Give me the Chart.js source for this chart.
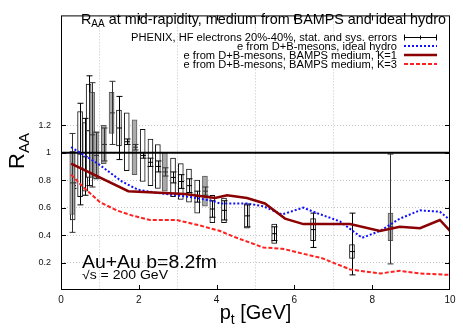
<!DOCTYPE html>
<html>
<head>
<meta charset="utf-8">
<script src="https://cdn.jsdelivr.net/npm/chart.js@4.4.0/dist/chart.umd.min.js"></script>
<style>
  html, body { margin: 0; padding: 0; background: #fff; }
</style>
</head>
<body>
<canvas id="c" width="463" height="333"></canvas>
<script>
/**************************************************
 DATA
**************************************************/
// PHENIX points drawn with open boxes
const whiteX     = [0.30, 0.49, 0.62, 0.71, 1.49, 1.69, 2.10, 2.30, 2.49, 2.88, 3.08, 3.29, 3.50, 3.89, 4.19, 4.78, 5.48, 6.48, 7.48];
const whiteY     = [0.76, 0.99, 0.97, 1.16, 1.18, 1.08, 0.98, 0.93, 0.90, 0.82, 0.79, 0.76, 0.68, 0.59, 0.58, 0.54, 0.41, 0.44, 0.28];
const whiteStatU = [0.02, 0.37, 0.28, 0.40, 0.23, 0.02, 0.02, 0.03, 0.04, 0.04, 0.05, 0.05, 0.04, 0.06, 0.07, 0.08, 0.05, 0.12, 0.28];
const whiteStatD = [0.02, 0.37, 0.28, 0.40, 0.23, 0.02, 0.02, 0.03, 0.04, 0.04, 0.05, 0.05, 0.04, 0.06, 0.07, 0.08, 0.05, 0.13, 0.17];
const whiteSys   = [0.25, 0.31, 0.25, 0.34, 0.13, 0.21, 0.19, 0.17, 0.16, 0.14, 0.13, 0.12, 0.12, 0.10, 0.09, 0.09, 0.07, 0.08, 0.05];

// PHENIX points drawn with grey boxes
const grayX     = [0.29, 0.80, 0.90, 1.10, 1.30, 1.89, 2.67, 3.70, 8.47];
const grayY     = [0.78, 1.13, 0.98, 1.06, 1.29, 1.04, 0.86, 0.72, 0.46];
const grayStatU = [0.36, 0.38, 0.17, 0.12, 0.23, 0.02, 0.03, 0.03, 0.53];
const grayStatD = [0.36, 0.38, 0.17, 0.12, 0.23, 0.02, 0.03, 0.03, 0.27];
const graySys   = [0.23, 0.31, 0.17, 0.14, 0.15, 0.20, 0.14, 0.11, 0.10];

// e from D+B-mesons, ideal hydro
const hydroX = [0.26, 0.95, 1.57, 1.98, 2.42, 3.26, 3.88, 4.09, 4.78, 5.20, 5.68, 6.23, 6.58, 7.17, 7.74, 8.20, 8.71, 9.23, 9.74, 10.0];
const hydroY = [1.04, 0.92, 0.79, 0.73, 0.71, 0.68, 0.65, 0.63, 0.63, 0.61, 0.55, 0.60, 0.56, 0.50, 0.38, 0.43, 0.52, 0.58, 0.57, 0.51];

// e from D+B-mesons, BAMPS medium, K=1
const k1X = [0.26, 1.73, 3.19, 3.96, 4.27, 4.78, 5.24, 5.76, 6.23, 7.43, 8.20, 8.71, 9.23, 9.74, 10.0];
const k1Y = [0.92, 0.72, 0.70, 0.67, 0.69, 0.67, 0.63, 0.52, 0.48, 0.48, 0.43, 0.46, 0.45, 0.51, 0.43];

// e from D+B-mesons, BAMPS medium, K=3
const k3X = [0.26, 0.57, 1.00, 1.43, 1.86, 2.29, 2.97, 3.57, 4.09, 4.42, 5.20, 5.70, 6.73, 7.43, 8.20, 8.71, 9.23, 10.0];
const k3Y = [0.84, 0.75, 0.64, 0.58, 0.54, 0.51, 0.51, 0.47, 0.43, 0.39, 0.31, 0.30, 0.23, 0.15, 0.12, 0.14, 0.12, 0.11];

const unityX = [0, 10];
const unityY = [1, 1];

const xTicks = [2, 4, 6, 8];
const yTicks = [0.2, 0.4, 0.6, 0.8, 1.0, 1.2];

const legendLabels = [
  "PHENIX, HF electrons 20%-40%, stat. and sys. errors",
  "e from D+B-mesons, ideal hydro",
  "e from D+B-mesons, BAMPS medium, K=1",
  "e from D+B-mesons, BAMPS medium, K=3"
];

/**************************************************
 HELPERS
**************************************************/
const FONT = '"Liberation Sans", Arial, sans-serif';

const pts = (xs, ys) => xs.map((x, i) => ({ x, y: ys[i] }));
const boxes = (xs, ys, sys) => xs.map((x, i) => ({ x, y: [ys[i] - sys[i], ys[i] + sys[i]] }));
const isTick = (list, v) => list.some(t => Math.abs(t - v) < 1e-6);
const gridColor = list => c => (c.tick && isTick(list, c.tick.value)) ? "#c4c4c4" : "rgba(0,0,0,0)";

function textWidth(ctx, parts) {
  let w = 0;
  parts.forEach(p => { ctx.font = p[1] + "px " + FONT; w += ctx.measureText(p[0]).width; });
  return w;
}

// draw text made of parts [text, size, dy], optionally stretched by sx
function richText(ctx, parts, x, y, align, sx) {
  sx = sx || 1;
  const w = textWidth(ctx, parts);
  const x0 = align === "right" ? x - w * sx : align === "center" ? x - w * sx / 2 : x;
  ctx.save();
  ctx.translate(x0, y);
  ctx.scale(sx, 1);
  ctx.textAlign = "left";
  ctx.textBaseline = "alphabetic";
  let cx = 0;
  parts.forEach(p => {
    ctx.font = p[1] + "px " + FONT;
    ctx.fillText(p[0], cx, p[2] || 0);
    cx += ctx.measureText(p[0]).width;
  });
  ctx.restore();
}

/**************************************************
 PLUGINS
**************************************************/
// stat. error bars + centre markers on the PHENIX boxes
const errBars = {
  id: "errBars",
  afterDatasetDraw(chart, args) {
    const ds = chart.data.datasets[args.index];
    if (!ds.statU) return;
    const ctx = chart.ctx, xs = chart.scales.x, ys = chart.scales.y;
    ctx.save();
    ctx.strokeStyle = ds.errColor;
    ctx.lineWidth = 1;
    ds.data.forEach((p, i) => {
      const mid = ds.mid[i];
      const px = Math.round(xs.getPixelForValue(p.x)) + 0.5;
      const yc = ys.getPixelForValue(mid);
      const y1 = ys.getPixelForValue(mid + ds.statU[i]);
      const y2 = ys.getPixelForValue(mid - ds.statD[i]);
      ctx.beginPath();
      ctx.moveTo(px, y1); ctx.lineTo(px, y2);
      ctx.moveTo(px - 3, y1); ctx.lineTo(px + 3, y1);
      ctx.moveTo(px - 3, y2); ctx.lineTo(px + 3, y2);
      ctx.moveTo(px - 2.5, yc); ctx.lineTo(px + 2.5, yc);
      ctx.stroke();
    });
    ctx.restore();
  }
};

// frame, mirrored inward ticks, texts and legend
const decor = {
  id: "decor",
  afterDraw(chart) {
    const ctx = chart.ctx, a = chart.chartArea;
    const xs = chart.scales.x, ys = chart.scales.y;
    ctx.save();
    ctx.strokeStyle = "#000";
    ctx.lineWidth = 1;
    ctx.strokeRect(a.left + 0.5, a.top + 0.5, a.right - a.left - 1, a.bottom - a.top - 1);

    ctx.beginPath();
    xTicks.forEach(v => {
      const px = Math.round(xs.getPixelForValue(v)) + 0.5;
      ctx.moveTo(px, a.bottom); ctx.lineTo(px, a.bottom - 5);
      ctx.moveTo(px, a.top); ctx.lineTo(px, a.top + 5);
    });
    yTicks.forEach(v => {
      const py = Math.round(ys.getPixelForValue(v)) + 0.5;
      ctx.moveTo(a.left, py); ctx.lineTo(a.left + 5, py);
      ctx.moveTo(a.right, py); ctx.lineTo(a.right - 5, py);
    });
    ctx.stroke();

    ctx.fillStyle = "#000";
    // title inside the frame
    const title = [["R", 15], ["AA", 10.5, 3], [" at mid-rapidity, medium from BAMPS and ideal hydro", 15]];
    richText(ctx, title, 81, 24, "left", 365 / textWidth(ctx, title));

    // legend, one common stretch taken from the first row
    const rows = [37, 46, 55, 64];
    const lsx = 266 / textWidth(ctx, [[legendLabels[0], 10]]);
    legendLabels.forEach((t, i) => richText(ctx, [[t, 10]], 397, rows[i] + 3.5, "right", lsx));

    ctx.lineWidth = 1;
    ctx.beginPath();
    ctx.moveTo(404, rows[0] + 0.5); ctx.lineTo(437, rows[0] + 0.5);
    ctx.moveTo(404.5, rows[0] - 2.5); ctx.lineTo(404.5, rows[0] + 3.5);
    ctx.moveTo(436.5, rows[0] - 2.5); ctx.lineTo(436.5, rows[0] + 3.5);
    ctx.moveTo(420.5, rows[0] - 1.5); ctx.lineTo(420.5, rows[0] + 2.5);
    ctx.stroke();
    const samples = chart.data.datasets.filter(d => d.legendRow);
    samples.forEach(d => {
      ctx.strokeStyle = d.borderColor;
      ctx.lineWidth = d.borderWidth;
      ctx.setLineDash(d.borderDash || []);
      ctx.beginPath();
      ctx.moveTo(404, rows[d.legendRow]); ctx.lineTo(437, rows[d.legendRow]);
      ctx.stroke();
    });
    ctx.setLineDash([]);

    // annotation
    const au = [["Au+Au b=8.2fm", 18.5]];
    richText(ctx, au, 82, 268, "left", 135 / textWidth(ctx, au));
    const sq = [["\u221As = 200 GeV", 12]];
    richText(ctx, sq, 82, 279, "left", 86 / textWidth(ctx, sq));

    // axis titles
    richText(ctx, [["p", 20], ["t", 14, 5], [" [GeV]", 20]], (a.left + a.right) / 2, 319, "center");
    ctx.save();
    ctx.translate(24, 151);
    ctx.rotate(-Math.PI / 2);
    richText(ctx, [["R", 22], ["AA", 15, 5]], 0, 0, "center");
    ctx.restore();
    ctx.restore();
  }
};

/**************************************************
 CHART
**************************************************/
new Chart(document.getElementById("c"), {
  type: "line",
  data: {
    datasets: [
      {
        type: "bar", data: boxes(whiteX, whiteY, whiteSys),
        mid: whiteY, statU: whiteStatU, statD: whiteStatD, errColor: "#000",
        backgroundColor: "#fff", borderColor: "#111", borderWidth: 1,
        borderSkipped: false, barThickness: 5, grouped: false, order: 10
      },
      {
        type: "bar", data: boxes(grayX, grayY, graySys),
        mid: grayY, statU: grayStatU, statD: grayStatD, errColor: "#333",
        backgroundColor: "#ababab", borderColor: "#5a5a5a", borderWidth: 1,
        borderSkipped: false, barThickness: 5, grouped: false, order: 9
      },
      {
        data: pts(unityX, unityY), borderColor: "#000", borderWidth: 2,
        pointRadius: 0, order: 4
      },
      {
        data: pts(hydroX, hydroY), borderColor: "#1010ff", borderWidth: 2,
        borderDash: [2, 2], pointRadius: 0, order: 3, legendRow: 1
      },
      {
        data: pts(k1X, k1Y), borderColor: "#8b0000", borderWidth: 2.5,
        pointRadius: 0, order: 2, legendRow: 2
      },
      {
        data: pts(k3X, k3Y), borderColor: "#ff2020", borderWidth: 2,
        borderDash: [4, 2], pointRadius: 0, order: 1, legendRow: 3
      }
    ]
  },
  options: {
    responsive: false,
    animation: false,
    events: [],
    layout: { padding: { left: 0, top: 11, right: 13, bottom: 0 } },
    plugins: { legend: { display: false }, tooltip: { enabled: false } },
    scales: {
      x: {
        type: "linear", min: 0, max: 10, offset: false,
        afterFit: s => { s.height = 43; },
        ticks: {
          stepSize: 2, padding: 4, color: "#111",
          font: { family: FONT, size: 10 }
        },
        grid: { drawTicks: false, color: gridColor(xTicks) },
        border: { display: false, dash: [1, 2] }
      },
      y: {
        min: 0, max: 2,
        afterFit: s => { s.width = 61; },
        ticks: {
          stepSize: 0.2, padding: 10, color: "#111",
          font: { family: FONT, size: 9 },
          callback: v => {
            if (!isTick(yTicks, v)) return "";
            const r = Math.round(v * 10) / 10;
            return r === 1 ? "1" : r.toFixed(1);
          }
        },
        grid: { drawTicks: false, color: gridColor(yTicks) },
        border: { display: false, dash: [1, 2] }
      }
    }
  },
  plugins: [errBars, decor]
});
</script>
</body>
</html>
